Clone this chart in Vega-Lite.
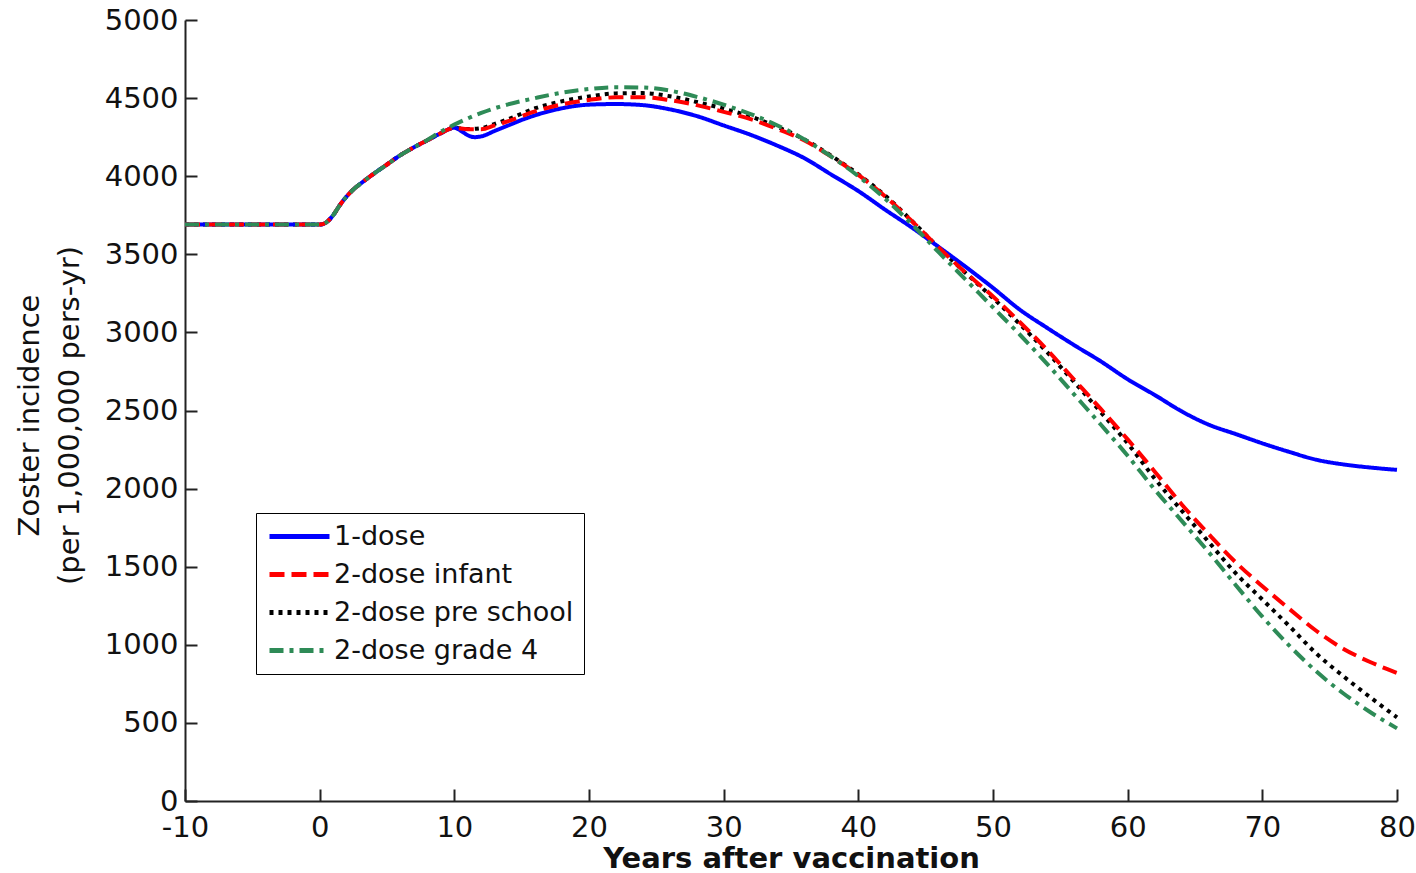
{
  "$schema": "https://vega.github.io/schema/vega-lite/v6.json",
  "width": 1212,
  "height": 781,
  "autosize": {"type": "none"},
  "padding": {"left": 185, "top": 20, "right": 19, "bottom": 72},
  "background": "white",
  "config": {
    "font": "DejaVu Sans",
    "view": {"stroke": null},
    "axis": {
      "grid": false,
      "domainColor": "#222222",
      "domainWidth": 2,
      "tickColor": "#222222",
      "tickWidth": 2,
      "tickSize": -12,
      "labelFont": "DejaVu Sans",
      "labelFontSize": 29,
      "labelColor": "#111111",
      "titleFont": "DejaVu Sans",
      "titleColor": "#111111"
    },
    "legend": {
      "orient": "none",
      "legendX": 71,
      "legendY": 493,
      "title": null,
      "symbolType": "M-3,0H3",
      "symbolSize": 400,
      "symbolOffset": 20,
      "symbolStrokeWidth": 5,
      "labelFontSize": 27,
      "labelFont": "DejaVu Sans",
      "labelColor": "#111111",
      "labelOffset": 21,
      "labelLimit": 400,
      "rowPadding": 10,
      "padding": 10,
      "strokeColor": "#000000",
      "fillColor": "#ffffff",
      "cornerRadius": 0
    }
  },
  "datasets": {
    "curves": [
      {"s": "2-dose pre school", "x": -10, "y": 3690},
      {"s": "2-dose pre school", "x": -5, "y": 3690},
      {"s": "2-dose pre school", "x": 0, "y": 3690},
      {"s": "2-dose pre school", "x": 0.5, "y": 3705},
      {"s": "2-dose pre school", "x": 1, "y": 3750},
      {"s": "2-dose pre school", "x": 1.5, "y": 3815},
      {"s": "2-dose pre school", "x": 2, "y": 3870},
      {"s": "2-dose pre school", "x": 2.5, "y": 3915},
      {"s": "2-dose pre school", "x": 3, "y": 3950},
      {"s": "2-dose pre school", "x": 4, "y": 4015},
      {"s": "2-dose pre school", "x": 5, "y": 4075},
      {"s": "2-dose pre school", "x": 6, "y": 4135},
      {"s": "2-dose pre school", "x": 7, "y": 4185},
      {"s": "2-dose pre school", "x": 8, "y": 4230},
      {"s": "2-dose pre school", "x": 9, "y": 4275},
      {"s": "2-dose pre school", "x": 10, "y": 4310},
      {"s": "2-dose pre school", "x": 11, "y": 4302},
      {"s": "2-dose pre school", "x": 12, "y": 4308},
      {"s": "2-dose pre school", "x": 13, "y": 4335},
      {"s": "2-dose pre school", "x": 14, "y": 4365},
      {"s": "2-dose pre school", "x": 16, "y": 4435},
      {"s": "2-dose pre school", "x": 18, "y": 4480},
      {"s": "2-dose pre school", "x": 20, "y": 4510},
      {"s": "2-dose pre school", "x": 22, "y": 4530},
      {"s": "2-dose pre school", "x": 24, "y": 4532},
      {"s": "2-dose pre school", "x": 26, "y": 4512},
      {"s": "2-dose pre school", "x": 28, "y": 4475},
      {"s": "2-dose pre school", "x": 30, "y": 4432},
      {"s": "2-dose pre school", "x": 32, "y": 4382},
      {"s": "2-dose pre school", "x": 34, "y": 4315},
      {"s": "2-dose pre school", "x": 36, "y": 4235},
      {"s": "2-dose pre school", "x": 38, "y": 4130},
      {"s": "2-dose pre school", "x": 40, "y": 4012},
      {"s": "2-dose pre school", "x": 42, "y": 3875},
      {"s": "2-dose pre school", "x": 44, "y": 3712},
      {"s": "2-dose pre school", "x": 46, "y": 3540},
      {"s": "2-dose pre school", "x": 48, "y": 3378},
      {"s": "2-dose pre school", "x": 50, "y": 3220},
      {"s": "2-dose pre school", "x": 52, "y": 3052},
      {"s": "2-dose pre school", "x": 54, "y": 2875},
      {"s": "2-dose pre school", "x": 56, "y": 2685},
      {"s": "2-dose pre school", "x": 58, "y": 2490},
      {"s": "2-dose pre school", "x": 60, "y": 2290},
      {"s": "2-dose pre school", "x": 62, "y": 2065},
      {"s": "2-dose pre school", "x": 64, "y": 1860},
      {"s": "2-dose pre school", "x": 66, "y": 1660},
      {"s": "2-dose pre school", "x": 68, "y": 1460},
      {"s": "2-dose pre school", "x": 70, "y": 1290},
      {"s": "2-dose pre school", "x": 72, "y": 1120},
      {"s": "2-dose pre school", "x": 74, "y": 945},
      {"s": "2-dose pre school", "x": 76, "y": 800},
      {"s": "2-dose pre school", "x": 78, "y": 665},
      {"s": "2-dose pre school", "x": 80, "y": 535},

      {"s": "1-dose", "x": -10, "y": 3690},
      {"s": "1-dose", "x": -5, "y": 3690},
      {"s": "1-dose", "x": 0, "y": 3690},
      {"s": "1-dose", "x": 0.5, "y": 3705},
      {"s": "1-dose", "x": 1, "y": 3750},
      {"s": "1-dose", "x": 1.5, "y": 3815},
      {"s": "1-dose", "x": 2, "y": 3870},
      {"s": "1-dose", "x": 2.5, "y": 3915},
      {"s": "1-dose", "x": 3, "y": 3950},
      {"s": "1-dose", "x": 4, "y": 4015},
      {"s": "1-dose", "x": 5, "y": 4075},
      {"s": "1-dose", "x": 6, "y": 4135},
      {"s": "1-dose", "x": 7, "y": 4185},
      {"s": "1-dose", "x": 8, "y": 4230},
      {"s": "1-dose", "x": 9, "y": 4275},
      {"s": "1-dose", "x": 10, "y": 4310},
      {"s": "1-dose", "x": 10.5, "y": 4290},
      {"s": "1-dose", "x": 11, "y": 4262},
      {"s": "1-dose", "x": 11.5, "y": 4250},
      {"s": "1-dose", "x": 12, "y": 4255},
      {"s": "1-dose", "x": 13, "y": 4290},
      {"s": "1-dose", "x": 14, "y": 4325},
      {"s": "1-dose", "x": 15, "y": 4360},
      {"s": "1-dose", "x": 16, "y": 4390},
      {"s": "1-dose", "x": 17, "y": 4415},
      {"s": "1-dose", "x": 18, "y": 4435},
      {"s": "1-dose", "x": 19, "y": 4450},
      {"s": "1-dose", "x": 20, "y": 4458},
      {"s": "1-dose", "x": 22, "y": 4462},
      {"s": "1-dose", "x": 24, "y": 4455},
      {"s": "1-dose", "x": 26, "y": 4428},
      {"s": "1-dose", "x": 28, "y": 4385},
      {"s": "1-dose", "x": 30, "y": 4325},
      {"s": "1-dose", "x": 32, "y": 4265},
      {"s": "1-dose", "x": 34, "y": 4195},
      {"s": "1-dose", "x": 36, "y": 4115},
      {"s": "1-dose", "x": 38, "y": 4010},
      {"s": "1-dose", "x": 40, "y": 3905},
      {"s": "1-dose", "x": 42, "y": 3785},
      {"s": "1-dose", "x": 44, "y": 3670},
      {"s": "1-dose", "x": 46, "y": 3545},
      {"s": "1-dose", "x": 48, "y": 3418},
      {"s": "1-dose", "x": 50, "y": 3285},
      {"s": "1-dose", "x": 52, "y": 3145},
      {"s": "1-dose", "x": 54, "y": 3030},
      {"s": "1-dose", "x": 56, "y": 2920},
      {"s": "1-dose", "x": 58, "y": 2815},
      {"s": "1-dose", "x": 60, "y": 2700},
      {"s": "1-dose", "x": 62, "y": 2600},
      {"s": "1-dose", "x": 64, "y": 2495},
      {"s": "1-dose", "x": 66, "y": 2410},
      {"s": "1-dose", "x": 68, "y": 2350},
      {"s": "1-dose", "x": 70, "y": 2290},
      {"s": "1-dose", "x": 72, "y": 2235},
      {"s": "1-dose", "x": 74, "y": 2185},
      {"s": "1-dose", "x": 76, "y": 2155},
      {"s": "1-dose", "x": 78, "y": 2135},
      {"s": "1-dose", "x": 80, "y": 2120},

      {"s": "2-dose infant", "x": -10, "y": 3690},
      {"s": "2-dose infant", "x": -5, "y": 3690},
      {"s": "2-dose infant", "x": 0, "y": 3690},
      {"s": "2-dose infant", "x": 0.5, "y": 3705},
      {"s": "2-dose infant", "x": 1, "y": 3750},
      {"s": "2-dose infant", "x": 1.5, "y": 3815},
      {"s": "2-dose infant", "x": 2, "y": 3870},
      {"s": "2-dose infant", "x": 2.5, "y": 3915},
      {"s": "2-dose infant", "x": 3, "y": 3950},
      {"s": "2-dose infant", "x": 4, "y": 4015},
      {"s": "2-dose infant", "x": 5, "y": 4075},
      {"s": "2-dose infant", "x": 6, "y": 4135},
      {"s": "2-dose infant", "x": 7, "y": 4185},
      {"s": "2-dose infant", "x": 8, "y": 4230},
      {"s": "2-dose infant", "x": 9, "y": 4275},
      {"s": "2-dose infant", "x": 10, "y": 4310},
      {"s": "2-dose infant", "x": 11, "y": 4300},
      {"s": "2-dose infant", "x": 12, "y": 4300},
      {"s": "2-dose infant", "x": 13, "y": 4325},
      {"s": "2-dose infant", "x": 14, "y": 4352},
      {"s": "2-dose infant", "x": 16, "y": 4415},
      {"s": "2-dose infant", "x": 18, "y": 4460},
      {"s": "2-dose infant", "x": 20, "y": 4488},
      {"s": "2-dose infant", "x": 22, "y": 4505},
      {"s": "2-dose infant", "x": 24, "y": 4505},
      {"s": "2-dose infant", "x": 26, "y": 4487},
      {"s": "2-dose infant", "x": 28, "y": 4455},
      {"s": "2-dose infant", "x": 30, "y": 4412},
      {"s": "2-dose infant", "x": 32, "y": 4365},
      {"s": "2-dose infant", "x": 34, "y": 4302},
      {"s": "2-dose infant", "x": 36, "y": 4228},
      {"s": "2-dose infant", "x": 38, "y": 4125},
      {"s": "2-dose infant", "x": 40, "y": 4008},
      {"s": "2-dose infant", "x": 42, "y": 3870},
      {"s": "2-dose infant", "x": 44, "y": 3710},
      {"s": "2-dose infant", "x": 46, "y": 3540},
      {"s": "2-dose infant", "x": 48, "y": 3380},
      {"s": "2-dose infant", "x": 50, "y": 3230},
      {"s": "2-dose infant", "x": 52, "y": 3065},
      {"s": "2-dose infant", "x": 54, "y": 2890},
      {"s": "2-dose infant", "x": 56, "y": 2700},
      {"s": "2-dose infant", "x": 58, "y": 2510},
      {"s": "2-dose infant", "x": 60, "y": 2315},
      {"s": "2-dose infant", "x": 62, "y": 2110},
      {"s": "2-dose infant", "x": 64, "y": 1900},
      {"s": "2-dose infant", "x": 66, "y": 1710},
      {"s": "2-dose infant", "x": 68, "y": 1530},
      {"s": "2-dose infant", "x": 70, "y": 1375},
      {"s": "2-dose infant", "x": 72, "y": 1230},
      {"s": "2-dose infant", "x": 74, "y": 1090},
      {"s": "2-dose infant", "x": 76, "y": 975},
      {"s": "2-dose infant", "x": 78, "y": 890},
      {"s": "2-dose infant", "x": 80, "y": 820},

      {"s": "2-dose grade 4", "x": -10, "y": 3690},
      {"s": "2-dose grade 4", "x": -5, "y": 3690},
      {"s": "2-dose grade 4", "x": 0, "y": 3690},
      {"s": "2-dose grade 4", "x": 0.5, "y": 3705},
      {"s": "2-dose grade 4", "x": 1, "y": 3750},
      {"s": "2-dose grade 4", "x": 1.5, "y": 3815},
      {"s": "2-dose grade 4", "x": 2, "y": 3870},
      {"s": "2-dose grade 4", "x": 2.5, "y": 3915},
      {"s": "2-dose grade 4", "x": 3, "y": 3950},
      {"s": "2-dose grade 4", "x": 4, "y": 4015},
      {"s": "2-dose grade 4", "x": 5, "y": 4075},
      {"s": "2-dose grade 4", "x": 6, "y": 4135},
      {"s": "2-dose grade 4", "x": 7, "y": 4185},
      {"s": "2-dose grade 4", "x": 8, "y": 4232},
      {"s": "2-dose grade 4", "x": 9, "y": 4285},
      {"s": "2-dose grade 4", "x": 10, "y": 4330},
      {"s": "2-dose grade 4", "x": 11, "y": 4370},
      {"s": "2-dose grade 4", "x": 12, "y": 4405},
      {"s": "2-dose grade 4", "x": 13, "y": 4435},
      {"s": "2-dose grade 4", "x": 14, "y": 4460},
      {"s": "2-dose grade 4", "x": 16, "y": 4500},
      {"s": "2-dose grade 4", "x": 18, "y": 4535},
      {"s": "2-dose grade 4", "x": 20, "y": 4558},
      {"s": "2-dose grade 4", "x": 22, "y": 4570},
      {"s": "2-dose grade 4", "x": 24, "y": 4568},
      {"s": "2-dose grade 4", "x": 26, "y": 4548},
      {"s": "2-dose grade 4", "x": 28, "y": 4508},
      {"s": "2-dose grade 4", "x": 30, "y": 4458},
      {"s": "2-dose grade 4", "x": 32, "y": 4398},
      {"s": "2-dose grade 4", "x": 34, "y": 4325},
      {"s": "2-dose grade 4", "x": 36, "y": 4235},
      {"s": "2-dose grade 4", "x": 38, "y": 4125},
      {"s": "2-dose grade 4", "x": 40, "y": 4000},
      {"s": "2-dose grade 4", "x": 42, "y": 3855},
      {"s": "2-dose grade 4", "x": 44, "y": 3690},
      {"s": "2-dose grade 4", "x": 46, "y": 3510},
      {"s": "2-dose grade 4", "x": 48, "y": 3335},
      {"s": "2-dose grade 4", "x": 50, "y": 3160},
      {"s": "2-dose grade 4", "x": 52, "y": 2985},
      {"s": "2-dose grade 4", "x": 54, "y": 2800},
      {"s": "2-dose grade 4", "x": 56, "y": 2605},
      {"s": "2-dose grade 4", "x": 58, "y": 2410},
      {"s": "2-dose grade 4", "x": 60, "y": 2210},
      {"s": "2-dose grade 4", "x": 62, "y": 1995},
      {"s": "2-dose grade 4", "x": 64, "y": 1795},
      {"s": "2-dose grade 4", "x": 66, "y": 1595},
      {"s": "2-dose grade 4", "x": 68, "y": 1385},
      {"s": "2-dose grade 4", "x": 70, "y": 1180},
      {"s": "2-dose grade 4", "x": 72, "y": 995},
      {"s": "2-dose grade 4", "x": 74, "y": 830},
      {"s": "2-dose grade 4", "x": 76, "y": 690},
      {"s": "2-dose grade 4", "x": 78, "y": 570},
      {"s": "2-dose grade 4", "x": 80, "y": 465}
    ]
  },
  "data": {"name": "curves"},
  "mark": {"type": "line", "strokeWidth": 4, "interpolate": "monotone", "strokeCap": "butt"},
  "encoding": {
    "x": {
      "field": "x",
      "type": "quantitative",
      "scale": {"domain": [-10, 80], "nice": false, "zero": false},
      "axis": {
        "values": [-10, 0, 10, 20, 30, 40, 50, 60, 70, 80],
        "labelExpr": "'' + datum.value",
        "labelFlush": false,
        "labelPadding": 24,
        "title": "Years after vaccination",
        "titleFontSize": 29,
        "titleFontWeight": "bold",
        "titleX": 606,
        "titleY": 43,
        "titleAlign": "center",
        "titleBaseline": "top"
      }
    },
    "y": {
      "field": "y",
      "type": "quantitative",
      "scale": {"domain": [0, 5000], "nice": false},
      "axis": {
        "values": [0, 500, 1000, 1500, 2000, 2500, 3000, 3500, 4000, 4500, 5000],
        "format": "d",
        "labelPadding": 19,
        "title": ["Zoster incidence", "(per 1,000,000 pers-yr)"],
        "titleFontSize": 29,
        "titleFontWeight": "normal",
        "titleAngle": -90,
        "titleX": -170,
        "titleY": 395,
        "titleAlign": "center",
        "titleBaseline": "top",
        "titleLineHeight": 40
      }
    },
    "color": {
      "field": "s",
      "type": "nominal",
      "scale": {
        "domain": ["1-dose", "2-dose infant", "2-dose pre school", "2-dose grade 4"],
        "range": ["#0000ff", "#ff0000", "#000000", "#2e8b57"]
      },
      "legend": {}
    },
    "strokeDash": {
      "field": "s",
      "type": "nominal",
      "scale": {
        "domain": ["1-dose", "2-dose infant", "2-dose pre school", "2-dose grade 4"],
        "range": [[1, 0], [15, 7], [4, 5], [14, 6, 4, 6]]
      },
      "legend": {}
    }
  }
}
